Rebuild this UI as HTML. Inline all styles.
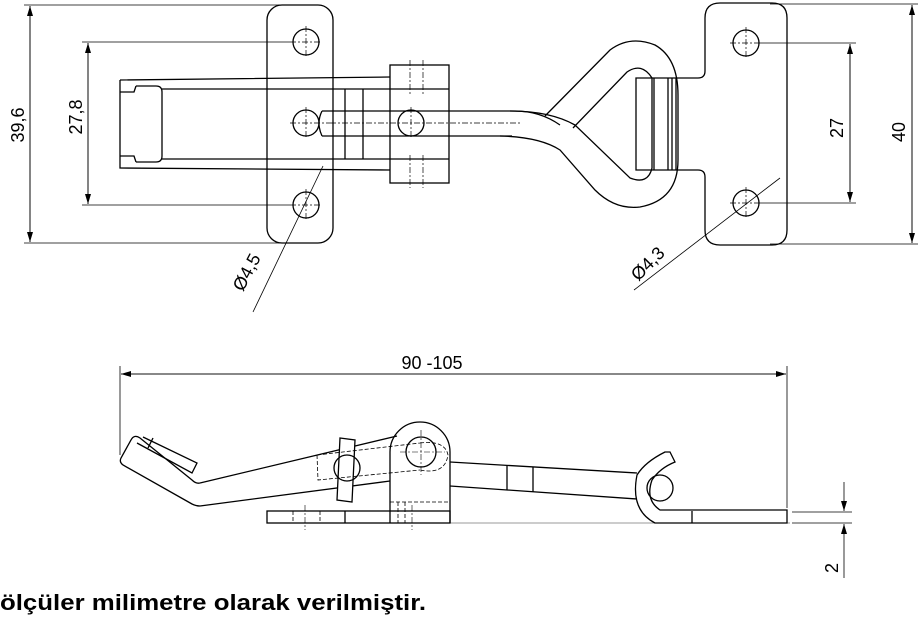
<!DOCTYPE html>
<html><head><meta charset="utf-8"><style>
html,body{margin:0;padding:0;background:#fff;width:920px;height:618px;overflow:hidden}
svg{display:block}
text{font-family:"Liberation Sans",sans-serif;fill:#000}
</style></head><body>
<svg width="920" height="618" viewBox="0 0 920 618" xmlns="http://www.w3.org/2000/svg">
<defs>
<marker id="a" markerWidth="10" markerHeight="6" refX="10" refY="3" orient="auto" markerUnits="userSpaceOnUse"><path d="M0,0 L10,3 L0,6 Z" fill="#000"/></marker>
</defs>
<g fill="none" stroke="#000" stroke-width="0.8">
<line x1="24" y1="5" x2="290" y2="5"/>
<line x1="24" y1="243" x2="290" y2="243"/>
<line x1="30" y1="6" x2="30" y2="242" marker-end="url(#a)"/>
<line x1="30" y1="242" x2="30" y2="6" marker-end="url(#a)"/>
<line x1="82" y1="42" x2="290" y2="42"/>
<line x1="82" y1="205" x2="290" y2="205"/>
<line x1="88" y1="43" x2="88" y2="204" marker-end="url(#a)"/>
<line x1="88" y1="204" x2="88" y2="43" marker-end="url(#a)"/>
<line x1="760" y1="43" x2="856" y2="43"/>
<line x1="760" y1="203" x2="856" y2="203"/>
<line x1="770" y1="4" x2="918" y2="4"/>
<line x1="770" y1="244" x2="918" y2="244"/>
<line x1="850" y1="44" x2="850" y2="202" marker-end="url(#a)"/>
<line x1="850" y1="202" x2="850" y2="44" marker-end="url(#a)"/>
<line x1="912" y1="5" x2="912" y2="243" marker-end="url(#a)"/>
<line x1="912" y1="243" x2="912" y2="5" marker-end="url(#a)"/>
<line x1="253" y1="312" x2="323" y2="166"/>
<line x1="634" y1="290" x2="780" y2="178"/>
<line x1="120" y1="366" x2="120" y2="455"/>
<line x1="787" y1="366" x2="787" y2="508"/>
<line x1="121" y1="374" x2="786" y2="374" marker-end="url(#a)"/>
<line x1="786" y1="374" x2="121" y2="374" marker-end="url(#a)"/>
<line x1="792" y1="512" x2="852" y2="512"/>
<line x1="792" y1="523" x2="852" y2="523"/>
<line x1="844" y1="482" x2="844" y2="511" marker-end="url(#a)"/>
<line x1="844" y1="578" x2="844" y2="524" marker-end="url(#a)"/>
<line x1="450" y1="523" x2="790" y2="523" stroke="#777"/>
</g>
<g fill="none" stroke="#000" stroke-width="1.3">
<rect x="267" y="5" width="66" height="238" rx="15"/>
<circle cx="306" cy="42" r="13"/><circle cx="306" cy="123" r="13"/><circle cx="306" cy="205" r="13"/>
<path d="M120,80 L390,77 M120,80 L120,168 L390,170 M162,89 L449,89 M162,159 L449,159"/>
<path d="M136,86 L156,86 Q162,86 162,92 L162,156 Q162,162 156,162 L136,162"/>
<path d="M120,92 L134,92 L136,86 M120,156 L134,156 L136,162"/>
<rect x="390" y="65" width="59" height="118"/>
<line x1="345" y1="89" x2="345" y2="159"/><line x1="363" y1="89" x2="363" y2="159"/>
<path d="M322,111 L515,111 Q540,111 560,125 M322,136 L512,136"/>
<path d="M322,111 Q316,123 322,136"/>
<circle cx="411" cy="123" r="13"/>
</g>
<g fill="none" stroke="#000" stroke-width="0.7" stroke-dasharray="6,2,2,2">
<line x1="290" y1="42" x2="322" y2="42"/><line x1="306" y1="26" x2="306" y2="58"/>
<line x1="290" y1="123" x2="330" y2="123"/><line x1="306" y1="107" x2="306" y2="139"/>
<line x1="290" y1="205" x2="322" y2="205"/><line x1="306" y1="189" x2="306" y2="221"/>
<line x1="330" y1="123" x2="520" y2="123"/><line x1="411" y1="107" x2="411" y2="139"/>
<line x1="730" y1="43" x2="762" y2="43"/><line x1="746" y1="27" x2="746" y2="59"/>
<line x1="730" y1="203" x2="762" y2="203"/><line x1="746" y1="187" x2="746" y2="219"/>
<line x1="410" y1="60" x2="410" y2="95"/><line x1="423" y1="60" x2="423" y2="95"/>
<line x1="410" y1="155" x2="410" y2="188"/><line x1="423" y1="155" x2="423" y2="188"/>
</g>
<g fill="none" stroke="#000" stroke-width="1.3">
<path d="M720,3 L772,3 Q787,3 787,18 L787,230 Q787,245 772,245 L720,245 Q705,245 705,230 L705,177 Q705,170 698,170 L636,170 L636,78 L698,78 Q705,78 705,71 L705,18 Q705,3 720,3 Z"/>
<circle cx="746" cy="43" r="13"/><circle cx="746" cy="203" r="13"/>
<line x1="654" y1="78" x2="654" y2="170"/><line x1="668" y1="78" x2="668" y2="170"/>
<line x1="672" y1="78" x2="672" y2="170"/><line x1="676" y1="78" x2="676" y2="170"/>
<path d="M545,116 L610,50 Q630,35 655,45 Q678,58 678,95 L678,160 Q678,200 640,207 Q615,210 595,190 L560,150 Q540,137 500,136"/>
<path d="M573,128 L627,72 Q642,62 652,78 L652,168 Q648,185 630,178 L575,125 Q550,111 510,111"/>
</g>
<g fill="none" stroke="#000" stroke-width="1.3">
<rect x="267" y="511" width="183" height="12"/>
<line x1="345" y1="511" x2="345" y2="523"/>
<path d="M390,523 L390,452 A30,30 0 0 1 450,452 L450,523"/>
<circle cx="421" cy="452" r="15"/>
<path d="M200,483 L397,436 M200,506 L390,481 M450,462 L637,473 M450,486 L637,499"/>
<path d="M200,483 Q196,484 192,480 L140,438 Q134,434 131,440 L121,458 Q119,462 123,465 L192,504 Q196,506 200,506"/>
<path d="M143,437 L197,463 L192,473 L137,443"/>
<line x1="153" y1="438" x2="148" y2="448"/>
<path d="M340,438 L355,440 L352,502 L337,500 Z" fill="#fff"/>
<circle cx="347" cy="468" r="13"/>
<line x1="507" y1="465" x2="507" y2="490"/><line x1="533" y1="467" x2="533" y2="492"/>
<circle cx="660" cy="488" r="13"/>
<path d="M670,452 L675,462 Q660,468 652,480 Q645,500 660,510 L787,510 L787,523 L655,523 Q630,510 637,475 Q645,462 665,452 Z"/>
<line x1="692" y1="511" x2="692" y2="523"/>
</g>
<g fill="none" stroke="#000" stroke-width="0.8" stroke-dasharray="4,2">
<path d="M317,455 L420,443 M317,455 L318,480 L420,470 M420,443 Q445,440 448,455 Q445,475 420,470"/>
<line x1="390" y1="502" x2="450" y2="502"/>
<line x1="398" y1="502" x2="398" y2="523"/><line x1="405" y1="502" x2="405" y2="523"/>
<line x1="293" y1="511" x2="293" y2="523"/><line x1="320" y1="511" x2="320" y2="523"/>
</g>
<g fill="none" stroke="#000" stroke-width="0.6" stroke-dasharray="6,2,2,2">
<line x1="305" y1="505" x2="305" y2="530"/><line x1="412" y1="505" x2="412" y2="530"/>
<line x1="421" y1="430" x2="421" y2="475"/><line x1="400" y1="452" x2="445" y2="452"/>
</g>
<text transform="translate(24,125) rotate(-90)" font-size="18" text-anchor="middle">39,6</text>
<text transform="translate(82,117) rotate(-90)" font-size="18" text-anchor="middle">27,8</text>
<text transform="translate(843,128) rotate(-90)" font-size="18" text-anchor="middle">27</text>
<text transform="translate(905,132) rotate(-90)" font-size="18" text-anchor="middle">40</text>
<text transform="translate(252,275) rotate(-62)" font-size="18" text-anchor="middle">Ø4,5</text>
<text transform="translate(652,268) rotate(-45)" font-size="18" text-anchor="middle">Ø4,3</text>
<text x="432" y="369" font-size="18" text-anchor="middle">90 -105</text>
<text transform="translate(838,568) rotate(-90)" font-size="18" text-anchor="middle">2</text>
<text x="0" y="610" font-size="22" font-weight="bold" textLength="426" lengthAdjust="spacingAndGlyphs">ölçüler milimetre olarak verilmiştir.</text>
</svg>
</body></html>
